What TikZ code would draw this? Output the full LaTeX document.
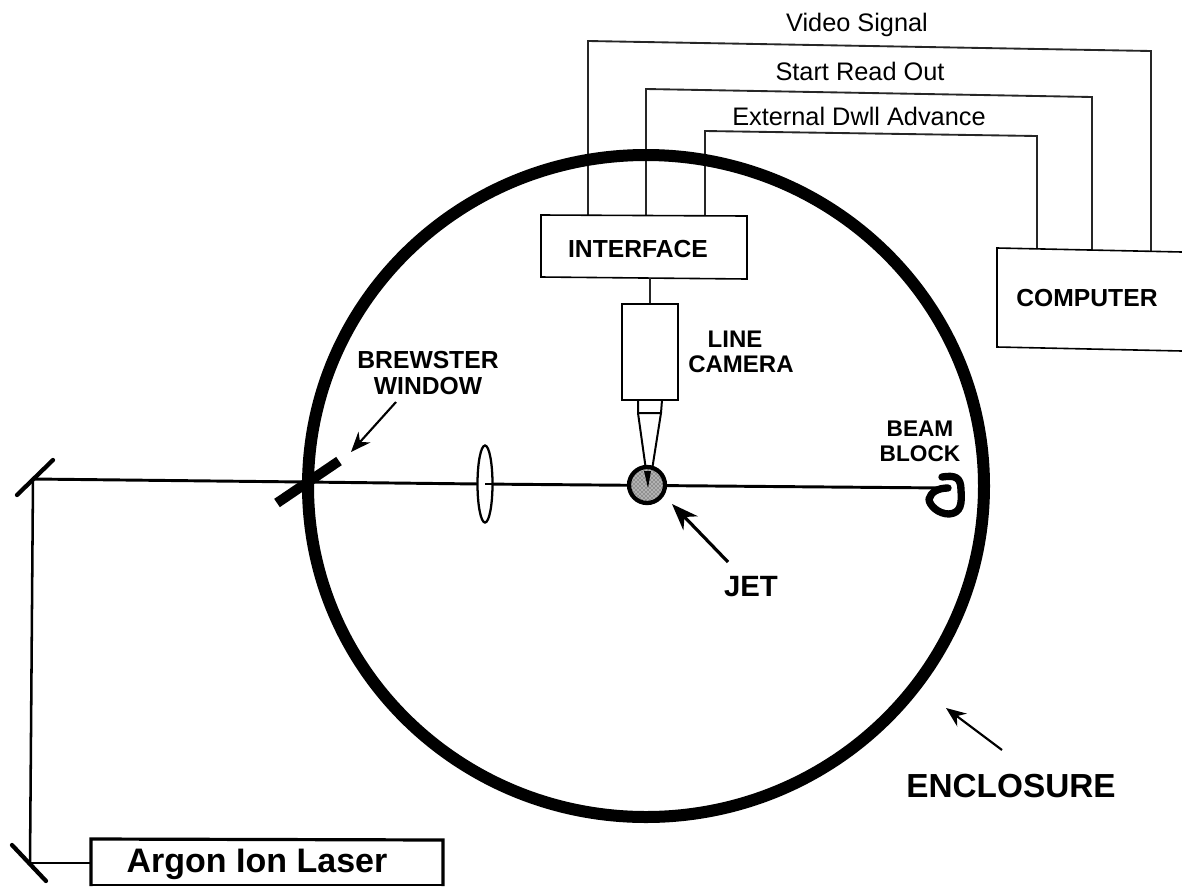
\documentclass[tikz,border=0pt]{standalone}
\usepackage{fontspec}
\setmainfont{Liberation Sans}
\usetikzlibrary{arrows.meta,patterns}
\tikzset{
  wire/.style={line width=1.4pt,draw=black!85},
  beam/.style={line width=2.2pt,draw=black},
  boxn/.style={draw=black,line width=1.2pt,fill=white,inner sep=0pt,rectangle},
  pointer/.style={line width=1.6pt,-{Stealth[length=15pt,width=12pt]}},
  lbl/.style={font=\fontsize{19pt}{20pt}\selectfont,align=center,inner sep=0pt},
  blbl/.style={font=\bfseries\fontsize{18.5pt}{18.8pt}\selectfont,align=center,inner sep=0pt},
  mirror/.style={line width=3.2pt,line cap=round}
}
\begin{document}
\begin{tikzpicture}[x=0.75pt,y=-0.75pt]
\useasboundingbox (0,0) rectangle (1182,886);
% wires
\coordinate (w1a) at (588,216); \coordinate (w1b) at (588,41); \coordinate (w1c) at (1151,51); \coordinate (w1d) at (1151,251);
\coordinate (w2a) at (646,216); \coordinate (w2b) at (646,89); \coordinate (w2c) at (1092,97); \coordinate (w2d) at (1092,250);
\coordinate (w3a) at (705,216); \coordinate (w3b) at (705,131); \coordinate (w3c) at (1037,136); \coordinate (w3d) at (1037,249);
\draw[wire] (w1a) -- (w1b) -- (w1c) -- (w1d);
\draw[wire] (w2a) -- (w2b) -- (w2c) -- (w2d);
\draw[wire] (w3a) -- (w3b) -- (w3c) -- (w3d);
% enclosure
\draw[line width=9pt] (646,486) ellipse [x radius=338,y radius=331];
% beam
\coordinate (m1) at (33,479); \coordinate (m2) at (30,863); \coordinate (bb) at (945,488);
\draw[beam] (m1) -- (305,482) -- (480,484) -- (bb);
\draw[beam,line width=1.9pt] (m1) -- (m2);
% mirrors
\draw[mirror] (17,495) -- (53,460);
\draw[mirror] (12,845) -- (46,881);
% brewster plate
\draw[line width=7.5pt] (277,503) -- (339,461);
\draw[pointer] (396,402) -- (351,452);
% lens
\draw[line width=1.7pt,fill=white] (485,484) ellipse [x radius=7.5,y radius=38.5];
\draw[line width=2.2pt] (485,484) -- (494,484);
% camera
\node[boxn,minimum width=42pt,minimum height=72pt] (cam) at (650,352) {};
\draw[line width=1.2pt,fill=white] (541,215) -- (747,216) -- (747,279) -- (541,277) -- cycle;
\coordinate (ifs) at (650,278);
\draw[wire] (ifs) -- (cam.north);
\draw[line width=1.5pt] (638,400) -- (638,413) -- (661,413) -- (662,400);
\draw[line width=1.5pt] (638,413) -- (646,470);
\draw[line width=1.5pt] (661,413) -- (652,470);
% jet
\fill[black!30] (647,485) circle [radius=18];
\draw[line width=3.2pt,pattern=crosshatch dots,pattern color=black!85] (647,485) circle [radius=18];
\fill (644,471) -- (651,471) -- (648,488) -- cycle;
% beam block
\draw[line width=5.5pt,line cap=round,line join=round] (942,477) .. controls (955,475) and (961,477) .. (961,490) .. controls (962,504) and (961,513) .. (949,514) .. controls (938,514) and (929,505) .. (929,499) .. controls (931,492) and (938,488) .. (948,488);
% computer
\draw[line width=1.2pt] (1182,252) -- (997,248) -- (997,347) -- (1182,351);
\node[blbl] (comp) at (1087,298) {COMPUTER};
% laser
\draw[beam,line width=1.9pt] (m2) -- (91,863);
\draw[line width=2.4pt] (91,886) -- (91,839) -- (443,840) -- (443,886);
\draw[line width=1.5pt] (91,885.3) -- (443,885.3);
\node[font=\bfseries\fontsize{25.5pt}{26pt}\selectfont,inner sep=0pt] (laser) at (257,864) {Argon Ion Laser};
% labels
\node[lbl] (vs) at (857,25) {Video Signal};
\node[lbl] (sr) at (860,71) {Start Read Out};
\node[lbl] (ed) at (859,116) {External Dwll Advance};
\node[blbl] (ifl) at (638,249) {INTERFACE};
\node[blbl,font=\bfseries\fontsize{18pt}{18.8pt}\selectfont] (lc) at (741,352) {LINE\hspace*{9pt}\\CAMERA};
\node[blbl] (bw) at (428,373) {BREWSTER\\WINDOW};
\node[blbl,font=\bfseries\fontsize{17pt}{18.8pt}\selectfont] (bbl) at (920,441) {BEAM\\BLOCK};
\node[font=\bfseries\fontsize{22pt}{26pt}\selectfont,inner sep=0pt] (jet) at (751,587) {JET};
\node[font=\bfseries\fontsize{25pt}{26pt}\selectfont,inner sep=0pt] (enc) at (1011,786) {ENCLOSURE};
% pointers
\draw[pointer,line width=2.4pt,-{Stealth[length=20pt,width=15pt]}] (728,562) -- (672,504);
\draw[pointer] (1002,750) -- (946,708);
\end{tikzpicture}
\end{document}
